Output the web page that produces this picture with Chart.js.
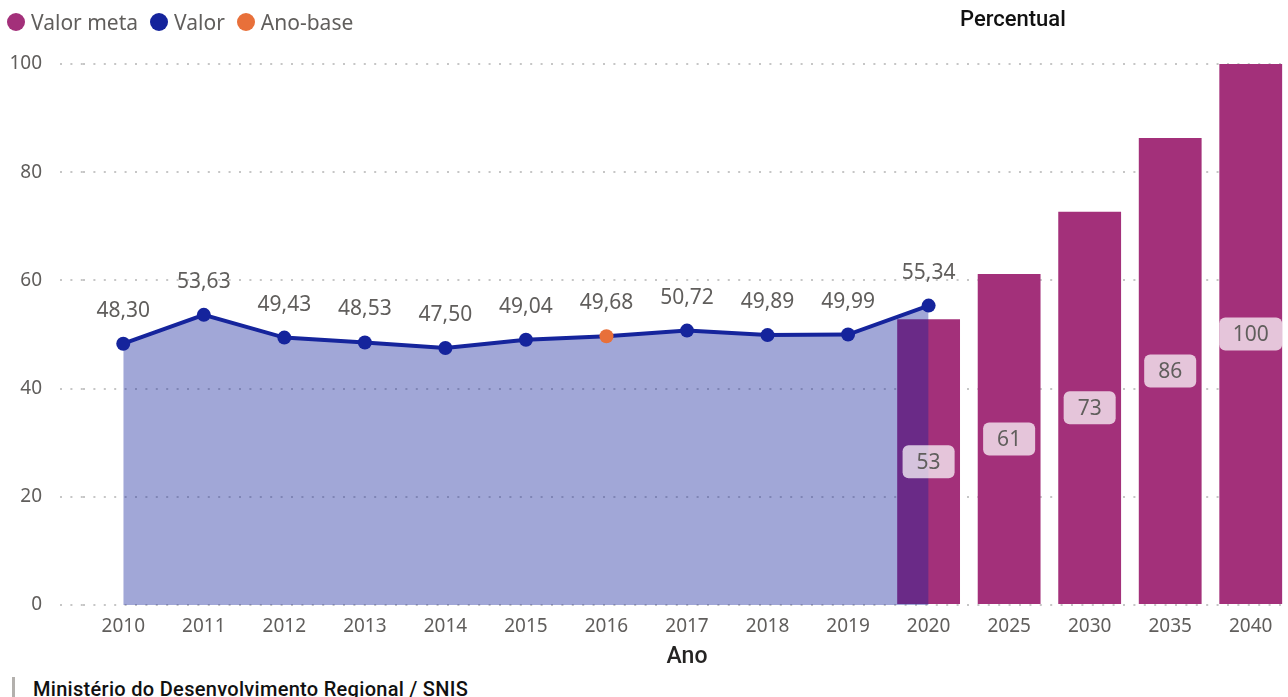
<!DOCTYPE html>
<html lang="pt">
<head>
    <meta charset="UTF-8">
    <title>Percentual</title>
    <script src="https://cdn.jsdelivr.net/npm/chart.js"></script>
    <style>
        body {
            margin: 0;
            background: #fff;
            overflow: hidden;
            font-family: "Noto Sans", sans-serif;
        }
        .wrap {
            position: relative;
            width: 1298px;
            height: 672px;
        }
        .legend {
            position: absolute;
            left: 7px;
            top: 8px;
            display: flex;
            align-items: center;
            font-size: 21px;
            color: #605E5C;
        }
        .legend .item { display: flex; align-items: center; margin-right: 12px; }
        .legend .dot { width: 18px; height: 18px; border-radius: 50%; margin-right: 6px; }
        .title {
            position: absolute;
            left: 960px;
            top: 6px;
            font-family: Roboto, sans-serif;
            font-weight: 500;
            font-size: 22px;
            color: #111;
        }
        .footer {
            position: absolute;
            left: 12px;
            top: 677px;
            height: 22px;
            border-left: 3px solid #b3b0ad;
            padding-left: 18px;
            font-family: Roboto, sans-serif;
            font-weight: 500;
            font-size: 20px;
            letter-spacing: 0.3px;
            line-height: 24px;
            color: #111;
        }
    </style>
</head>
<body>
    <div class="wrap">
        <canvas id="grafico" width="1298" height="672"></canvas>
        <div class="legend">
            <div class="item"><span class="dot" style="background:#A3307A"></span>Valor meta</div>
            <div class="item"><span class="dot" style="background:#15249C"></span>Valor</div>
            <div class="item"><span class="dot" style="background:#E8703A"></span>Ano-base</div>
        </div>
        <div class="title">Percentual</div>
    </div>
    <div class="footer">Ministério do Desenvolvimento Regional / SNIS</div>

    <script>
        // dados
        const anos = ['2010', '2011', '2012', '2013', '2014', '2015', '2016', '2017', '2018', '2019', '2020', '2025', '2030', '2035', '2040'];
        const valor = [48.30, 53.63, 49.43, 48.53, 47.50, 49.04, 49.68, 50.72, 49.89, 49.99, 55.34, null, null, null, null];
        const valorMeta = [null, null, null, null, null, null, null, null, null, null, 52.8, 61.2, 72.7, 86.3, 100];
        const anoBase = '2016';
        const yMin = 0, yMax = 100, yStep = 20;

        const corLinha = '#15249C';
        const corMeta = '#A3307A';
        const corBase = '#E8703A';
        const cinza = '#605E5C';
        const corGrade = '#c6c6c6';
        const pontilhado = [2, 8.4];

        function roundRect(ctx, x, y, w, h, r) {
            ctx.beginPath();
            ctx.moveTo(x + r, y);
            ctx.arcTo(x + w, y, x + w, y + h, r);
            ctx.arcTo(x + w, y + h, x, y + h, r);
            ctx.arcTo(x, y + h, x, y, r);
            ctx.arcTo(x, y, x + w, y, r);
            ctx.closePath();
        }

        // rótulos de dados (linha e barras)
        const rotulos = {
            id: 'rotulos',
            afterDatasetsDraw(chart) {
                const ctx = chart.ctx;
                ctx.save();
                ctx.font = '21px "Noto Sans"';
                ctx.textAlign = 'center';
                ctx.textBaseline = 'middle';

                // barras
                const metaBar = chart.getDatasetMeta(0);
                metaBar.data.forEach((bar, i) => {
                    const v = valorMeta[i];
                    if (v == null) return;
                    const txt = String(Math.round(v));
                    const cy = (bar.y + bar.base) / 2;
                    const tw = ctx.measureText(txt).width;
                    const w = Math.min(tw + 28, bar.width);
                    const h = 33;
                    roundRect(ctx, bar.x - w / 2, cy - h / 2, w, h, 6);
                    ctx.fillStyle = 'rgba(255,255,255,0.72)';
                    ctx.fill();
                    ctx.fillStyle = cinza;
                    ctx.fillText(txt, bar.x, cy + 1);
                });

                // linha
                const metaLinha = chart.getDatasetMeta(1);
                metaLinha.data.forEach((pt, i) => {
                    const v = valor[i];
                    if (v == null) return;
                    ctx.fillStyle = cinza;
                    ctx.fillText(v.toFixed(2).replace('.', ','), pt.x, pt.y - 33);
                });
                ctx.restore();
            }
        };

        new Chart(document.getElementById('grafico'), {
            data: {
                labels: anos,
                datasets: [
                    {
                        type: 'bar',
                        label: 'Valor meta',
                        data: valorMeta,
                        backgroundColor: corMeta,
                        barPercentage: 0.78,
                        categoryPercentage: 1,
                        order: 2
                    },
                    {
                        type: 'line',
                        label: 'Valor',
                        data: valor,
                        borderColor: corLinha,
                        borderWidth: 4,
                        backgroundColor: 'rgba(21,36,156,0.4)',
                        fill: 'origin',
                        tension: 0,
                        pointRadius: 7,
                        pointBorderWidth: 0,
                        pointBackgroundColor: anos.map(a => a === anoBase ? corBase : corLinha),
                        order: 1
                    }
                ]
            },
            options: {
                responsive: false,
                animation: false,
                devicePixelRatio: 1,
                layout: { padding: { top: 64, right: 1, left: 0, bottom: 0 } },
                plugins: {
                    legend: { display: false },
                    tooltip: { enabled: false }
                },
                scales: {
                    x: {
                        offset: true,
                        grid: { display: false, drawTicks: false },
                        border: { display: false },
                        ticks: { color: cinza, font: { family: 'Noto Sans', size: 19 }, padding: 10, maxRotation: 0 },
                        title: {
                            display: true,
                            text: 'Ano',
                            color: '#252423',
                            font: { family: 'Roboto', size: 23, weight: '500' },
                            padding: { top: 0, bottom: 1 }
                        },
                        afterFit(scale) { scale.height = 67; }
                    },
                    y: {
                        min: yMin,
                        max: yMax,
                        ticks: { stepSize: yStep, color: cinza, font: { family: 'Noto Sans', size: 19 }, padding: 18 },
                        grid: {
                            color: corGrade,
                            lineWidth: 2,
                            tickLength: 23,
                            tickColor: corGrade,
                            tickWidth: 2,
                            tickBorderDash: pontilhado
                        },
                        border: { display: false, dash: pontilhado },
                        afterFit(scale) { scale.width = 83; }
                    }
                }
            },
            plugins: [rotulos]
        });
    </script>
</body>
</html>
